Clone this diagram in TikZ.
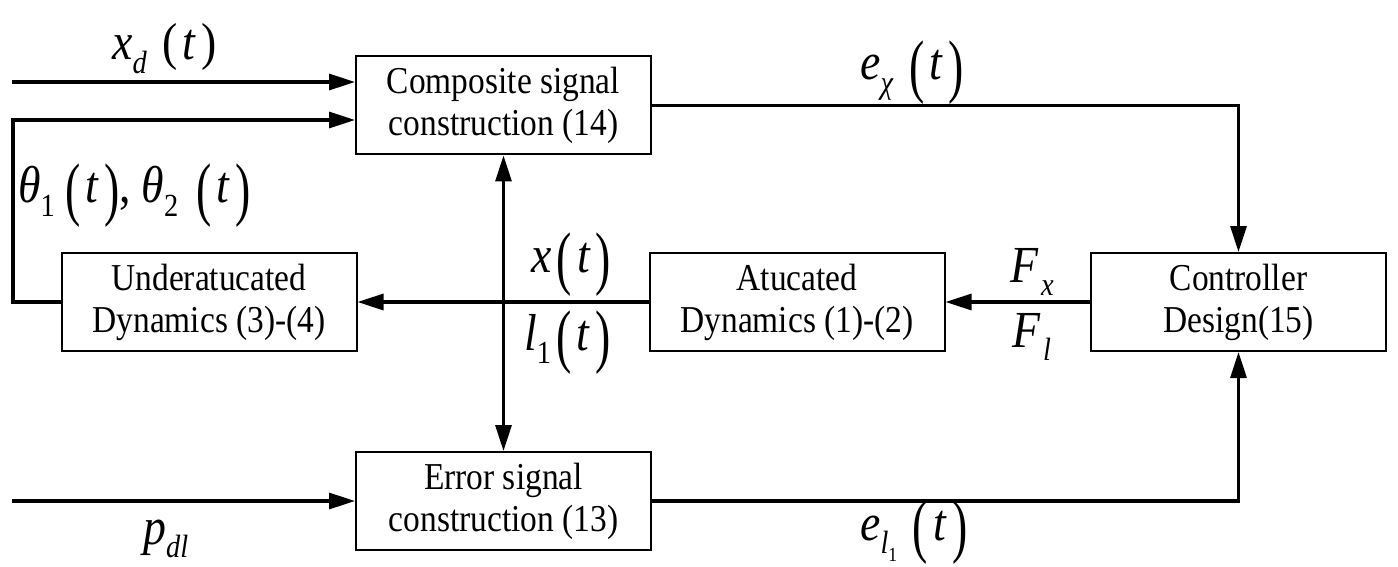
\documentclass[tikz,border=0pt]{standalone}
\usepackage{fontspec}
\setmainfont{Liberation Serif}[
  UprightFont=Liberation Serif,
  ItalicFont=Liberation Serif Italic,
  BoldFont=Liberation Serif Bold,
  FakeStretch=0.88]
\usepackage{graphicx}
\usetikzlibrary{arrows.meta}

% tall upright parentheses and lowered subscripts for the signal labels
\newcommand{\lp}{\hspace{0.1em}\raisebox{-0.19em}{\scalebox{1}[1.35]{(}}\hspace{0.1em}}
\newcommand{\rp}{\hspace{0.1em}\raisebox{-0.19em}{\scalebox{1}[1.35]{)}}}
\newcommand{\dn}[1]{\raisebox{-0.26em}{\scalebox{0.62}{#1}}}
\newcommand{\mv}[1]{\textit{#1}}

\tikzset{
  block/.style={draw, line width=2pt, rectangle, inner sep=0pt,
    minimum width=295pt, minimum height=98pt, align=center,
    font=\fontsize{38}{42}\selectfont},
  wire/.style={line width=3.2pt},
  arr/.style={wire, -{Triangle[length=26pt,width=16pt]}},
  darr/.style={wire, {Triangle[length=26pt,width=16pt]}-{Triangle[length=26pt,width=16pt]}},
  sig/.style={inner sep=0pt, anchor=base west, font=\fontsize{52}{58}\selectfont}
}

\begin{document}
\begin{tikzpicture}[x=1pt, y=-1pt]
  \useasboundingbox (0,0) rectangle (1398,567);

  % blocks
  \node[block] (comp)  at (503.5,105.5) {Composite signal\\construction (14)};
  \node[block] (under) at (209,302)     {Underatucated\\Dynamics (3)-(4)};
  \node[block] (act)   at (797,302)     {Atucated\\Dynamics (1)-(2)};
  \node[block] (ctrl)  at (1238.5,302)  {Controller\\Design(15)};
  \node[block] (err)   at (503.5,501)   {Error signal\\construction (13)};

  % free ends of the input lines
  \coordinate (xdin) at (12,82);
  \coordinate (thL)  at (13,120);
  \coordinate (pin)  at (12,501);

  % connectors
  \draw[arr] (xdin) -- (xdin -| comp.west);
  \draw[arr] (under.west) -| (thL) -- (thL -| comp.west);
  \draw[arr] (comp.east) -| (ctrl.north);
  \draw[arr] (err.east) -| (ctrl.south);
  \draw[arr] (pin) -- (pin -| err.west);
  \draw[arr] (ctrl.west) -- (act.east);
  \draw[arr] (act.west) -- (under.east);
  \draw[darr] (comp.south) -- (err.north);

  % signal labels
  \node[sig] (lxd) at (112,60)
    {\mv{x}\dn{\mv{d}}\hspace{0.3em}(\hspace{0.1em}\mv{t}\hspace{0.1em})};
  \node[sig] (lech) at (860,80) {\mv{e}\dn{\mv{χ}}\hspace{0.2em}\lp\mv{t}\rp};
  \node[sig] (lth)  at (18,203)
    {\mv{θ}\dn{1}\hspace{0.1em}\lp\mv{t}\rp,\hspace{0.2em}\mv{θ}\dn{2}\hspace{0.25em}\lp\mv{t}\rp};
  \node[sig] (lx)   at (531,272) {\mv{x}\lp\mv{t}\rp};
  \node[sig] (ll)   at (524,350) {\mv{l}\dn{1}\lp\mv{t}\rp};
  \node[sig] (lfx)  at (1010,282) {\mv{F}\hspace{0.05em}\dn{\mv{x}}};
  \node[sig] (lfl)  at (1012,347) {\mv{F}\hspace{0.05em}\dn{\mv{l}}};
  \node[sig] (lpd)  at (143,544) {\mv{p}\dn{\mv{dl}}};
  \node[sig] (lel)  at (860,540) {\mv{e}\dn{\mv{l}\dn{1}}\hspace{0.2em}\lp\mv{t}\rp};
\end{tikzpicture}
\end{document}
